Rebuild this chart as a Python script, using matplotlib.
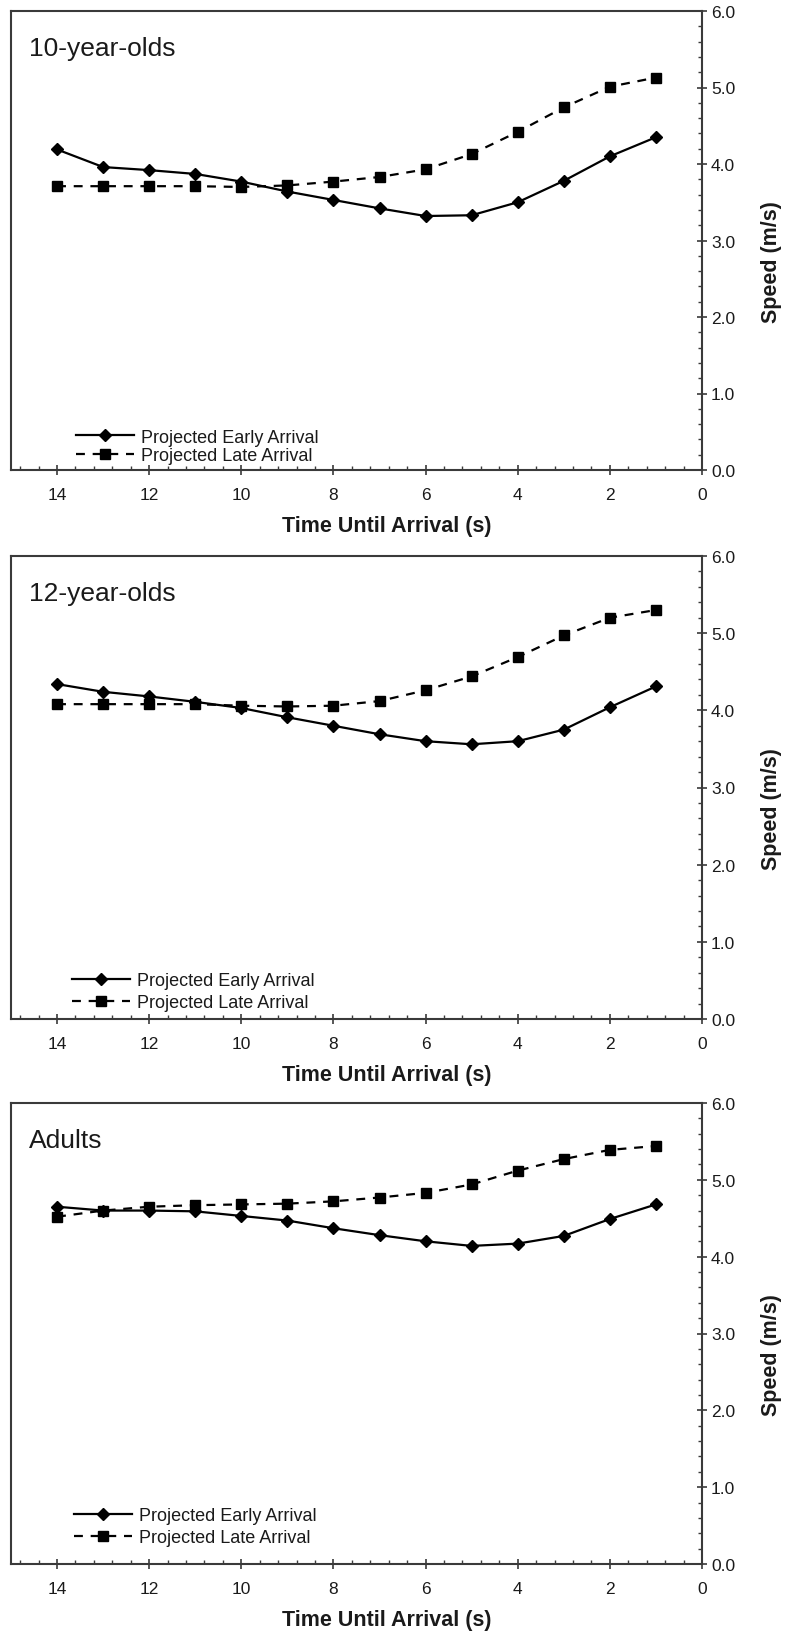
import matplotlib
matplotlib.use('Agg')
from matplotlib import pyplot as plt
from matplotlib.ticker import MultipleLocator, FormatStrFormatter

plt.rcParams['font.family'] = ['Liberation Sans', 'DejaVu Sans']

# time until arrival (s)
times = [14, 13, 12, 11, 10, 9, 8, 7, 6, 5, 4, 3, 2, 1]

groups = ['10-year-olds', '12-year-olds', 'Adults']

early_10 = [4.19, 3.96, 3.92, 3.87, 3.77, 3.64, 3.53, 3.42, 3.32, 3.33, 3.50, 3.78, 4.10, 4.35]
late_10 = [3.71, 3.71, 3.71, 3.71, 3.70, 3.72, 3.77, 3.83, 3.93, 4.13, 4.42, 4.74, 5.01, 5.13]

early_12 = [4.34, 4.24, 4.18, 4.11, 4.03, 3.91, 3.80, 3.69, 3.60, 3.56, 3.60, 3.75, 4.04, 4.31]
late_12 = [4.08, 4.08, 4.08, 4.08, 4.06, 4.05, 4.06, 4.12, 4.26, 4.44, 4.69, 4.97, 5.20, 5.30]

early_ad = [4.65, 4.60, 4.60, 4.59, 4.53, 4.47, 4.37, 4.28, 4.20, 4.14, 4.17, 4.27, 4.49, 4.68]
late_ad = [4.52, 4.60, 4.65, 4.67, 4.68, 4.69, 4.72, 4.77, 4.83, 4.94, 5.12, 5.27, 5.39, 5.44]

early_all = [early_10, early_12, early_ad]
late_all = [late_10, late_12, late_ad]

W, H = 786, 1633
fig = plt.figure(figsize=(W / 100, H / 100), dpi=100)

# panel pixel extents (top, bottom) and legend anchors
panels = [(12, 471), (557, 1020), (1104, 1565)]
legend_pos = [(0.094, 0.012, 0.1), (0.089, 0.017, 0.28), (0.091, 0.038, 0.28)]

text_c = '#1a1a1a'
spine_c = '#3a3a3a'

for i, (top, bot) in enumerate(panels):
    ax = fig.add_axes([11 / W, 1 - bot / H, 691 / W, (bot - top) / H])

    ax.plot(times, early_all[i], color='black', lw=1.6, marker='D', ms=6.5,
            label='Projected Early Arrival')
    ax.plot(times, late_all[i], color='black', lw=1.6, ls=(0, (4, 3.5)),
            marker='s', ms=7, label='Projected Late Arrival')

    ax.set_xlim(15, 0)
    ax.set_ylim(0, 6)
    ax.xaxis.set_major_locator(MultipleLocator(2))
    ax.xaxis.set_minor_locator(MultipleLocator(0.4))
    ax.yaxis.set_major_locator(MultipleLocator(1))
    ax.yaxis.set_minor_locator(MultipleLocator(0.2))
    ax.yaxis.set_major_formatter(FormatStrFormatter('%.1f'))
    ax.yaxis.tick_right()
    ax.yaxis.set_label_position('right')

    ax.tick_params(axis='x', which='major', direction='inout', length=7,
                   width=1.2, pad=9, labelsize=12.5, colors=spine_c, labelcolor=text_c)
    ax.tick_params(axis='y', which='major', direction='inout', length=7,
                   width=1.2, pad=3, labelsize=12.5, colors=spine_c, labelcolor=text_c)
    ax.tick_params(which='minor', direction='in', length=3, width=1.0, colors=spine_c)

    for s in ax.spines.values():
        s.set_color(spine_c)
        s.set_linewidth(1.5)

    ax.set_xlabel('Time Until Arrival (s)', fontsize=15.5, fontweight='bold',
                  color=text_c, va='center')
    ax.xaxis.set_label_coords(0.544, -0.12)
    ax.set_ylabel('Speed (m/s)', fontsize=15.5, fontweight='bold', color=text_c,
                  va='center', rotation=90)
    ax.yaxis.set_label_coords(1.101, 0.455)

    ax.text(0.026, 0.92, groups[i], transform=ax.transAxes, fontsize=19,
            va='center', ha='left', color=text_c)

    lx, ly, lsp = legend_pos[i]
    leg = ax.legend(loc='lower left', bbox_to_anchor=(lx, ly), frameon=False,
                    fontsize=13, handlelength=3.2, handletextpad=0.4,
                    labelspacing=lsp, borderpad=0, borderaxespad=0, numpoints=1)
    for t in leg.get_texts():
        t.set_color(text_c)

fig.savefig('out.png', dpi=100)
